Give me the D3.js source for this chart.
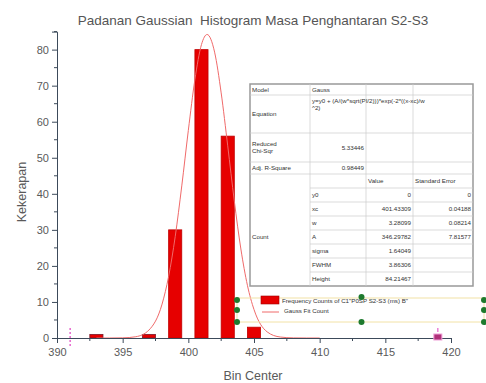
<!DOCTYPE html>
<html>
<head>
<meta charset="utf-8">
<script src="https://cdn.jsdelivr.net/npm/d3@7"></script>
<style>
  body { margin: 0; background: #fff; }
  svg { font-family: "Liberation Sans", Arial, sans-serif; }
</style>
</head>
<body>
<svg id="chart" width="486" height="383"></svg>
<script>
// histogram bins (bin center, count)
let binCenters = [393, 397, 399, 401, 403, 405]
let binCounts = [1, 1, 30, 80, 56, 3]

// fitted Gauss curve
let fitX = [393, 394, 395, 396, 397, 398, 398.5, 399, 399.5, 400, 400.5, 401, 401.43, 402, 402.5, 403, 403.5, 404, 404.5, 405, 406, 407, 408, 409, 410]
let fitY = [0, 0, 0.04, 0.35, 2.2, 9.4, 17.1, 28.1, 42.2, 57.6, 71.7, 81.4, 84.2, 79.3, 68.0, 53.3, 38.0, 24.7, 14.6, 7.9, 1.7, 0.27, 0.03, 0, 0]

let xTicks = [390, 395, 400, 405, 410, 415, 420]
let yTicks = [0, 10, 20, 30, 40, 50, 60, 70, 80]

// data reader marks on the x axis
let readerMarks = [391, 419]

// fit report table
let tableRows = [
  ["Model", "Gauss", "", ""],
  ["Equation", "y=y0 + (A/(w*sqrt(PI/2)))*exp(-2*((x-xc)/w", "", ""],
  ["Reduced\nChi-Sqr", "5.33446", "", ""],
  ["Adj. R-Square", "0.98449", "", ""],
  ["", "", "Value", "Standard Error"],
  ["", "y0", "0", "0"],
  ["", "xc", "401.43309", "0.04188"],
  ["", "w", "3.28099", "0.08214"],
  ["", "A", "346.29782", "7.81577"],
  ["", "sigma", "1.64049", ""],
  ["", "FWHM", "3.86306", ""],
  ["", "Height", "84.21467", ""]
]
let rowHeights = [11, 38, 29, 12, 14, 14, 14, 14, 14, 14, 14, 14]
let legendLabels = ['Frequency Counts of C1"P0SP S2-S3 (ms) B"', "Gauss Fit Count"]

let width = 486
let height = 383
let svg = d3.select("#chart")

let X = d3.scaleLinear()
          .domain([390, 420])
          .range([57, 451])

let Y = d3.scaleLinear()
          .domain([0, 85])
          .range([338, 31.6])

let axisColor = "#3c4a5a"
let textColor = "#5a5a5a"

// title
svg.append("text")
   .attr("x", 253)
   .attr("y", 25)
   .attr("text-anchor", "middle")
   .attr("font-size", 13.5)
   .attr("fill", "#555")
   .style("white-space", "pre")
   .text("Padanan Gaussian  Histogram Masa Penghantaran S2-S3")

// bars
let barW = X(391) - X(390)
svg.append("g")
   .selectAll("rect")
   .data(binCenters)
   .enter()
   .append("rect")
   .attr("x", (d) => X(d) - barW / 2)
   .attr("y", (d, i) => Y(binCounts[i]))
   .attr("width", barW)
   .attr("height", (d, i) => Y(0) - Y(binCounts[i]))
   .attr("fill", "#e60000")
   .attr("stroke", (d, i) => binCounts[i] < 2 ? "#7a1a2a" : "#c00000")
   .attr("stroke-width", 0.8)

// fit curve
let line = d3.line()
             .x((d, i) => X(fitX[i]))
             .y((d) => Y(d))
             .curve(d3.curveMonotoneX)
svg.append("path")
   .attr("fill", "none")
   .attr("stroke", "#f06a6a")
   .attr("stroke-width", 1)
   .attr("d", line(fitY))

// x axis
let xaxis = d3.axisBottom(X)
              .tickValues(xTicks)
              .tickSize(5)
              .tickFormat(d3.format("d"))
let gx = svg.append("g")
   .attr("transform", "translate(0," + Y(0) + ")")
   .call(xaxis)
gx.select(".domain").attr("stroke", axisColor)
gx.selectAll(".tick line").attr("stroke", axisColor)
gx.selectAll(".tick text")
  .attr("fill", textColor)
  .attr("font-size", 11)
  .attr("dy", "0.95em")
gx.selectAll(".minor")
  .data(d3.range(392.5, 420, 5))
  .enter()
  .append("line")
  .attr("x1", (d) => X(d))
  .attr("x2", (d) => X(d))
  .attr("y1", 0)
  .attr("y2", 3)
  .attr("stroke", axisColor)

// y axis
let yaxis = d3.axisLeft(Y)
              .tickValues(yTicks)
              .tickSize(5)
let gy = svg.append("g")
   .attr("transform", "translate(" + X(390) + ",0)")
   .call(yaxis)
gy.select(".domain").attr("stroke", axisColor)
gy.selectAll(".tick line").attr("stroke", axisColor)
gy.selectAll(".tick text")
  .attr("fill", textColor)
  .attr("font-size", 11)
gy.selectAll(".minor")
  .data(d3.range(5, 86, 10))
  .enter()
  .append("line")
  .attr("x1", -3)
  .attr("x2", 0)
  .attr("y1", (d) => Y(d))
  .attr("y2", (d) => Y(d))
  .attr("stroke", axisColor)

// axis titles
svg.append("text")
   .attr("transform", "rotate(-90)")
   .attr("x", -192)
   .attr("y", 26)
   .attr("text-anchor", "middle")
   .attr("font-size", 12.5)
   .attr("fill", textColor)
   .text("Kekerapan")

svg.append("text")
   .attr("x", 253)
   .attr("y", 380)
   .attr("text-anchor", "middle")
   .attr("font-size", 12.5)
   .attr("fill", textColor)
   .text("Bin Center")

// data reader marks
let rm = svg.append("g")
rm.append("line")
  .attr("x1", X(readerMarks[0])).attr("x2", X(readerMarks[0]))
  .attr("y1", Y(0) - 10).attr("y2", Y(0) + 9)
  .attr("stroke", "#e040c0")
  .attr("stroke-width", 1.2)
  .attr("stroke-dasharray", "2,2")
rm.append("rect")
  .attr("x", X(readerMarks[1]) - 4).attr("y", Y(0) - 4)
  .attr("width", 8).attr("height", 6)
  .attr("fill", "#b0307a")
  .attr("stroke", "#f0a0d8")
rm.append("line")
  .attr("x1", X(readerMarks[1])).attr("x2", X(readerMarks[1]))
  .attr("y1", Y(0) - 10).attr("y2", Y(0) - 6)
  .attr("stroke", "#e040c0")

// fit report table
let colX = [250, 310, 366, 413, 473]
let tTop = 84
let rowY = [tTop]
rowHeights.forEach((h) => rowY.push(rowY[rowY.length - 1] + h))
let tbl = svg.append("g").attr("font-size", 6.2).attr("fill", "#333")
tbl.append("rect")
   .attr("x", colX[0]).attr("y", tTop)
   .attr("width", colX[4] - colX[0]).attr("height", rowY[rowY.length - 1] - tTop)
   .attr("fill", "#fff")
   .attr("stroke", "#999")
   .attr("stroke-width", 1.5)
// horizontal rules (column 1 is merged over the parameter rows)
rowY.slice(1, -1).forEach((y, i) => {
  let x0 = i >= 4 ? colX[1] : colX[0]
  tbl.append("line")
     .attr("x1", x0).attr("x2", colX[4])
     .attr("y1", y).attr("y2", y)
     .attr("stroke", "#ccc").attr("stroke-width", 0.7)
})
colX.slice(1, 4).forEach((x) => {
  tbl.append("line")
     .attr("x1", x).attr("x2", x)
     .attr("y1", tTop).attr("y2", rowY[rowY.length - 1])
     .attr("stroke", "#ccc").attr("stroke-width", 0.7)
})
tableRows.forEach((row, r) => {
  let yMid = (rowY[r] + rowY[r + 1]) / 2
  row.forEach((cell, c) => {
    if (cell === "") return
    let lines = cell.split("\n")
    let numeric = c >= 1 && /^[0-9.]+$/.test(cell)
    let t = tbl.append("text")
               .attr("x", numeric ? colX[c + 1] - 2 : colX[c] + 2)
               .attr("text-anchor", numeric ? "end" : "start")
    if (r === 0) t.attr("y", rowY[r] + 8)
    else if (r === 1) t.attr("y", yMid + 2)
    else t.attr("y", yMid + 2 - (lines.length - 1) * 3.5)
    lines.forEach((s, k) => {
      t.append("tspan").attr("x", numeric ? colX[c + 1] - 2 : colX[c] + 2)
       .attr("dy", k === 0 ? 0 : 7).text(s)
    })
  })
})
// equation text spans the row, wraps to a second line
tbl.selectAll("text").filter(function () { return d3.select(this).text().startsWith("y=") })
   .attr("y", rowY[1] + 8)
   .append("tspan").attr("x", colX[1] + 2).attr("dy", 7).text("^2)")
tbl.append("text")
   .attr("x", colX[0] + 2)
   .attr("y", (rowY[5] + rowY[12]) / 2 + 2)
   .text("Count")

// legend
let lg = svg.append("g")
let lx0 = 237, lx1 = 484, ly0 = 298, ly1 = 322
lg.append("rect")
  .attr("x", lx0).attr("y", ly0)
  .attr("width", lx1 - lx0).attr("height", ly1 - ly0)
  .attr("fill", "none")
  .attr("stroke", "#f2e2a6")
  .attr("stroke-width", 1)
lg.append("rect")
  .attr("x", 261).attr("y", 296)
  .attr("width", 18).attr("height", 8)
  .attr("fill", "#e60000").attr("stroke", "#a00000").attr("stroke-width", 0.6)
lg.append("line")
  .attr("x1", 262).attr("x2", 279)
  .attr("y1", 312).attr("y2", 312)
  .attr("stroke", "#f06a6a")
legendLabels.forEach((s, i) => {
  lg.append("text")
    .attr("x", 282 + i * 2)
    .attr("y", 302.5 + i * 10)
    .attr("font-size", 6.2)
    .attr("fill", "#333")
    .text(s)
})
// selection handles
let handles = [[lx0, ly0 + 2], [lx0, 310], [lx0, ly1], [(lx0 + lx1) / 2 + 1, ly0 - 1], [(lx0 + lx1) / 2 + 1, ly1], [lx1, ly0 + 2], [lx1, 310], [lx1, ly1]]
lg.selectAll("circle")
  .data(handles)
  .enter()
  .append("circle")
  .attr("cx", (d) => d[0])
  .attr("cy", (d) => d[1])
  .attr("r", 3)
  .attr("fill", "#1e7a2e")
</script>
</body>
</html>
